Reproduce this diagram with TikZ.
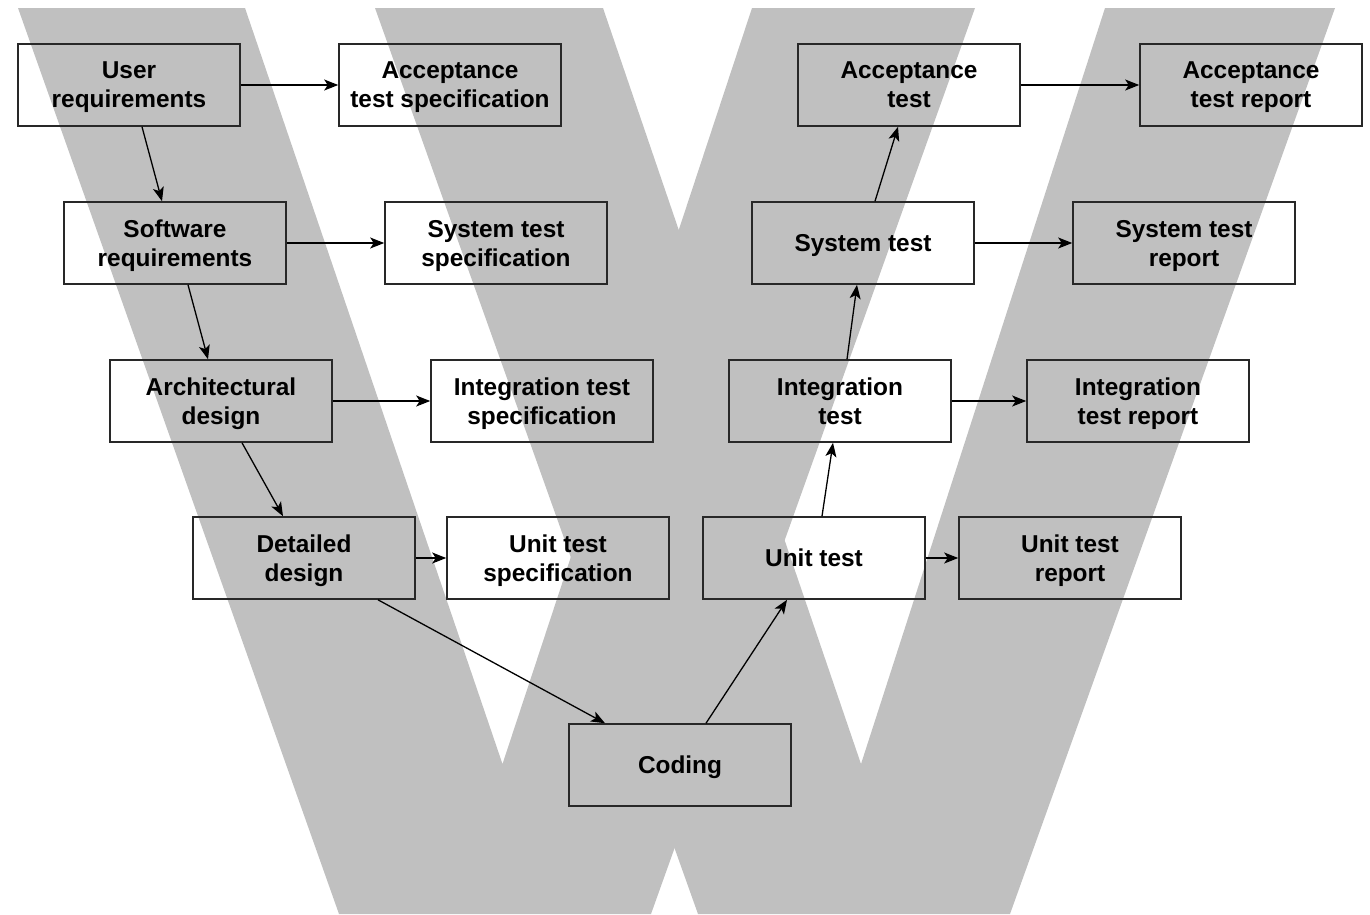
\documentclass[tikz,border=0pt]{standalone}
\usepackage{fontspec}
\setmainfont{Liberation Sans}
\usetikzlibrary{arrows.meta}
\definecolor{wgrey}{RGB}{192,192,192}
\definecolor{boxline}{RGB}{40,40,40}
\begin{document}
\begin{tikzpicture}[x=1pt,y=-1pt,
  box/.style={draw=boxline, line width=1.6pt, minimum width=222pt,
    minimum height=82pt, inner sep=0pt, align=center, text depth=0pt,
    font=\fontsize{24.4}{29}\selectfont\bfseries},
  link/.style={draw=black, line width=1.3pt,
    -{Stealth[length=14pt,width=11pt,inset=3.5pt]}}]
\useasboundingbox (0,0) rectangle (1370,914);

% the large W behind the chart, built from two overlapping V shapes
\fill[wgrey] (18,8) -- (245,8) -- (502.5,764) -- (752,8) -- (975,8)
  -- (651,914) -- (339,914) -- cycle;
\fill[wgrey] (375,8) -- (603,8) -- (861,764) -- (1105,8) -- (1335,8)
  -- (1010,914) -- (698,914) -- cycle;

% left branch: specification and design
\node[box] (ur)  at (129,85)  {User\\requirements};
\node[box] (sr)  at (175,243) {Software\\requirements};
\node[box] (ad)  at (221,401) {Architectural\\design};
\node[box] (dd)  at (304,558) {Detailed\\design};

% test specifications
\node[box] (ats) at (450,85)  {Acceptance\\test specification};
\node[box] (sts) at (496,243) {System test\\specification};
\node[box] (its) at (542,401) {Integration test\\specification};
\node[box] (uts) at (558,558) {Unit test\\specification};

% bottom
\node[box] (cod) at (680,765) {Coding};

% right branch: testing
\node[box] (ut)  at (814,558) {Unit test};
\node[box] (it)  at (840,401) {Integration\\test};
\node[box] (st)  at (863,243) {System test};
\node[box] (at)  at (909,85)  {Acceptance\\test};

% test reports
\node[box] (utr) at (1070,558) {Unit test\\report};
\node[box] (itr) at (1138,401) {Integration\\test report};
\node[box] (str) at (1184,243) {System test\\report};
\node[box] (atr) at (1251,85)  {Acceptance\\test report};

% horizontal links
\draw[link] (ur.east) -- (ats.west);
\draw[link] (sr.east) -- (sts.west);
\draw[link] (ad.east) -- (its.west);
\draw[link] (dd.east) -- (uts.west);
\draw[link] (ut.east) -- (utr.west);
\draw[link] (it.east) -- (itr.west);
\draw[link] (st.east) -- (str.west);
\draw[link] (at.east) -- (atr.west);

% down the left branch
\draw[link] ([xshift=13pt]ur.south) -- ([xshift=-13pt]sr.north);
\draw[link] ([xshift=13pt]sr.south) -- ([xshift=-13pt]ad.north);
\draw[link] ([xshift=21pt]ad.south) -- ([xshift=-21pt]dd.north);
\draw[link] ([xshift=74pt]dd.south) -- ([xshift=-75pt]cod.north);

% up the right branch
\draw[link] ([xshift=26pt]cod.north) -- ([xshift=-27pt]ut.south);
\draw[link] ([xshift=8pt]ut.north) -- ([xshift=-7pt]it.south);
\draw[link] ([xshift=7pt]it.north) -- ([xshift=-6pt]st.south);
\draw[link] ([xshift=12pt]st.north) -- ([xshift=-11pt]at.south);
\end{tikzpicture}
\end{document}
